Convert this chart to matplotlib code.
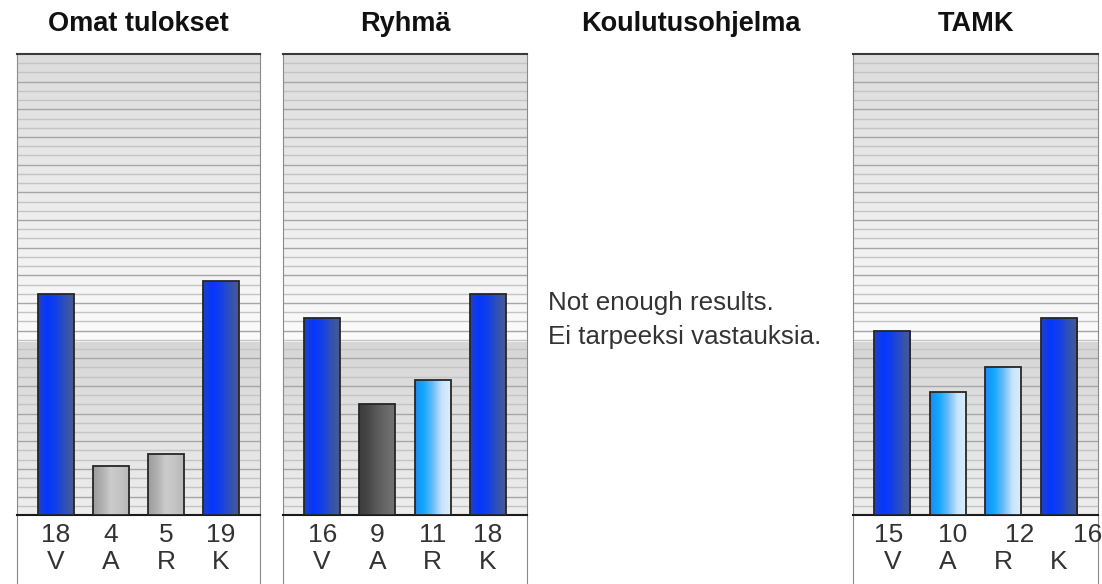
import numpy as np
import matplotlib
matplotlib.use('Agg')
import matplotlib.pyplot as plt
from matplotlib.colors import LinearSegmentedColormap

plt.rcParams['font.family'] = ['Liberation Sans', 'DejaVu Sans']

# data
titles = ['Omat tulokset', 'Ryhmä', 'Koulutusohjelma', 'TAMK']
letters = ['V', 'A', 'R', 'K']
omat = [18, 4, 5, 19]
ryhma = [16, 9, 11, 18]
tamk = [15, 10, 12, 16]
no_data = 'Not enough results.\nEi tarpeeksi vastauksia.'

# bar colour schemes (left -> right)
blue = ['#2242c4', '#0536ff', '#1440e8', '#3050b8', '#4a5a8e']
light_blue = ['#1a8cf0', '#14a8ff', '#6cbcf8', '#c8e4fc', '#dceefc']
light_gray = ['#9c9c9c', '#b0b0b0', '#cccccc', '#c4c4c4', '#b8b8b8']
dark_gray = ['#3c3c3c', '#474747', '#5a5a5a', '#686868', '#727272']


def bar_scheme(v):
    if v >= 13:
        return blue
    if v >= 10:
        return light_blue
    if v >= 7:
        return dark_gray
    return light_gray


W, H = 1102, 584
fig = plt.figure(figsize=(W / 100, H / 100), dpi=100)

top, base = 54, 515
ymax = 37.5
split = 14.0
lefts = [17, 283, None, 853]
widths = [243, 244, None, 245]


def background(ax):
    # upper band: gray to white, lower band: gray to lighter gray
    up = LinearSegmentedColormap.from_list('up', ['#fbfbfb', '#dcdcdc'])
    lo = LinearSegmentedColormap.from_list('lo', ['#eeeeee', '#d6d6d6'])
    g = np.linspace(0, 1, 200).reshape(-1, 1)
    ax.imshow(g, cmap=up, extent=[-1, 5, split, ymax], origin='lower',
              aspect='auto', zorder=0)
    ax.imshow(g, cmap=lo, extent=[-1, 5, 0, split], origin='lower',
              aspect='auto', zorder=0)
    ys = np.arange(0.75, ymax, 0.75)
    for i, y in enumerate(ys):
        c = '#a6a6a6' if i % 3 == 1 else '#c4c4c4'
        ax.axhline(y, color=c, lw=1.0, zorder=1)


def draw_panel(k, values, shifts):
    l, w = lefts[k], widths[k]
    lab = fig.add_axes([l / W, -0.05, w / W, (H - base) / H + 0.05])
    lab.set_zorder(1)
    lab.set_xticks([])
    lab.set_yticks([])
    lab.set_facecolor('white')
    for s in ['left', 'right']:
        lab.spines[s].set_color('#8a8a8a')
    lab.spines['top'].set_visible(False)
    lab.spines['bottom'].set_visible(False)

    ax = fig.add_axes([l / W, (H - base) / H, w / W, (base - top) / H])
    ax.set_zorder(2)
    background(ax)
    x = np.arange(len(values))
    bars = ax.bar(x, values, width=0.65, facecolor='none',
                  edgecolor='#262626', lw=1.3, zorder=4)
    for b, v in zip(bars, values):
        cm = LinearSegmentedColormap.from_list('b', bar_scheme(v))
        grad = np.linspace(0, 1, 100).reshape(1, -1)
        x0, x1 = b.get_x(), b.get_x() + b.get_width()
        im = ax.imshow(grad, cmap=cm, extent=[x0, x1, 0, v],
                       aspect='auto', zorder=3)
        im.set_clip_path(b)

    ax.set_xlim(-0.71, 3.71)
    ax.set_ylim(0, ymax)
    ax.set_xticks([])
    ax.set_yticks([])
    for s in ['left', 'right']:
        ax.spines[s].set_color('#8a8a8a')
    ax.spines['top'].set_color('#3a3a3a')
    ax.spines['top'].set_linewidth(1.5)
    ax.spines['bottom'].set_color('#1a1a1a')
    ax.spines['bottom'].set_linewidth(1.5)

    tr = ax.get_xaxis_transform()
    for i, (v, s) in enumerate(zip(values, shifts)):
        ax.text(i + s, -0.044, str(v), transform=tr, ha='center',
                va='center', fontsize=19, color='#333333', clip_on=False)
        ax.text(i, -0.102, letters[i], transform=tr, ha='center',
                va='center', fontsize=19, color='#333333', clip_on=False)
    fig.text((l + w / 2) / W, 1 - 24 / H, titles[k], ha='center',
             va='center', fontsize=19.5, fontweight='bold', color='#111111')
    return ax


draw_panel(0, omat, [0, 0, 0, 0])
draw_panel(1, ryhma, [0, 0, 0, 0])
draw_panel(3, tamk, [-0.07, 0.09, 0.29, 0.52])

fig.text(691 / W, 1 - 24 / H, titles[2], ha='center', va='center',
         fontsize=19.5, fontweight='bold', color='#111111')
fig.text(548 / W, 1 - 320 / H, no_data, ha='left', va='center',
         fontsize=18.7, color='#333333', linespacing=1.55)

fig.savefig('out.png', dpi=100)
